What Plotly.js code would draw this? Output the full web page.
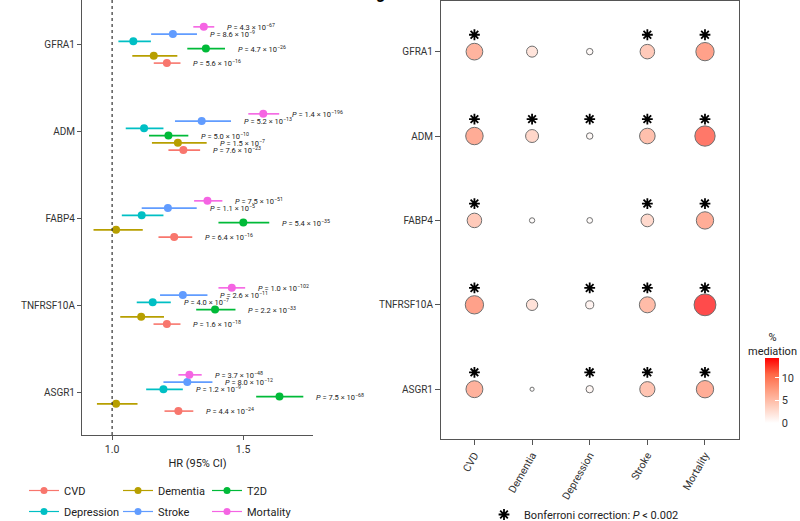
<!DOCTYPE html>
<html><head><meta charset="utf-8">
<script src="https://cdn.plot.ly/plotly-3.0.1.min.js"></script>
<style>html,body{margin:0;padding:0;background:#fff;} #chart{width:800px;height:521px;}</style>
</head><body><div id="chart"></div>
<script>
// ---------- data: left panel (HR forest plot) ----------
const proteins = ['GFRA1', 'ADM', 'FABP4', 'TNFRSF10A', 'ASGR1'];
const outcomes = ['CVD', 'Dementia', 'T2D', 'Depression', 'Stroke', 'Mortality'];

const hr_CVD = [1.209, 1.272, 1.237, 1.209, 1.253];
const lo_CVD = [1.159, 1.215, 1.177, 1.158, 1.200];
const hi_CVD = [1.261, 1.336, 1.306, 1.261, 1.310];
const p_CVD = [['5.6', '16'], ['7.6', '23'], ['6.4', '16'], ['1.6', '18'], ['4.4', '24']];

const hr_Dementia = [1.159, 1.251, 1.015, 1.111, 1.015];
const lo_Dementia = [1.077, 1.152, 0.929, 1.031, 0.942];
const hi_Dementia = [1.249, 1.361, 1.117, 1.198, 1.097];
const p_Dementia = [null, ['1.5', '7'], null, null, null];

const hr_T2D = [1.358, 1.215, 1.501, 1.393, 1.639];
const lo_T2D = [1.287, 1.141, 1.406, 1.321, 1.550];
const hi_T2D = [1.431, 1.291, 1.600, 1.471, 1.730];
const p_T2D = [['4.7', '26'], ['5.0', '10'], ['5.4', '35'], ['2.2', '33'], ['7.5', '68']];

const hr_Depression = [1.081, 1.122, 1.113, 1.155, 1.196];
const lo_Depression = [1.024, 1.052, 1.037, 1.094, 1.130];
const hi_Depression = [1.148, 1.196, 1.196, 1.224, 1.270];
const p_Depression = [null, null, null, ['4.0', '7'], ['1.2', '9']];

const hr_Stroke = [1.232, 1.342, 1.213, 1.270, 1.287];
const lo_Stroke = [1.149, 1.240, 1.113, 1.183, 1.196];
const hi_Stroke = [1.324, 1.454, 1.323, 1.364, 1.383];
const p_Stroke = [['8.6', '9'], ['5.2', '13'], ['1.1', '5'], ['2.6', '11'], ['8.0', '12']];

const hr_Mortality = [1.350, 1.577, 1.364, 1.457, 1.295];
const lo_Mortality = [1.310, 1.520, 1.313, 1.406, 1.253];
const hi_Mortality = [1.390, 1.638, 1.421, 1.508, 1.342];
const p_Mortality = [['4.3', '67'], ['1.4', '196'], ['7.5', '51'], ['1.0', '102'], ['3.7', '48']];

// ---------- data: right panel (% mediation) ----------
const medOutcomes = ['CVD', 'Dementia', 'Depression', 'Stroke', 'Mortality'];
const med_CVD = [7.8, 8.6, 5.6, 9.6, 8.0];
const med_Dementia = [2.8, 4.2, 0.3, 3.0, 0.1];
const med_Depression = [0.6, 0.6, 0.4, 1.2, 0.9];
const med_Stroke = [5.6, 6.6, 4.0, 7.0, 6.2];
const med_Mortality = [9.6, 12.2, 8.5, 14.4, 8.5];
const sig_CVD = [1, 1, 1, 1, 1];
const sig_Dementia = [0, 1, 0, 0, 0];
const sig_Depression = [0, 1, 0, 1, 1];
const sig_Stroke = [1, 1, 1, 1, 1];
const sig_Mortality = [1, 1, 1, 1, 1];

// ---------- styling ----------
const FONT = 'Roboto, Arial, sans-serif';
const colors = {CVD:'#F8766D', Dementia:'#B79F00', T2D:'#00BA38', Depression:'#00BFC4', Stroke:'#619CFF', Mortality:'#F564E3'};
const dodge = {Mortality:0.2083, Stroke:0.125, Depression:0.0417, T2D:-0.0417, Dementia:-0.125, CVD:-0.2083};
const legendOf = {CVD:'legend', Depression:'legend', Dementia:'legend2', Stroke:'legend2', T2D:'legend3', Mortality:'legend3'};
const forest = {
  CVD:[hr_CVD, lo_CVD, hi_CVD, p_CVD],
  Dementia:[hr_Dementia, lo_Dementia, hi_Dementia, p_Dementia],
  T2D:[hr_T2D, lo_T2D, hi_T2D, p_T2D],
  Depression:[hr_Depression, lo_Depression, hi_Depression, p_Depression],
  Stroke:[hr_Stroke, lo_Stroke, hi_Stroke, p_Stroke],
  Mortality:[hr_Mortality, lo_Mortality, hi_Mortality, p_Mortality]
};
const med = {CVD:med_CVD, Dementia:med_Dementia, Depression:med_Depression, Stroke:med_Stroke, Mortality:med_Mortality};
const sig = {CVD:sig_CVD, Dementia:sig_Dementia, Depression:sig_Depression, Stroke:sig_Stroke, Mortality:sig_Mortality};

const catY = proteins.map((p, i) => proteins.length - i);

const traces = [];
const annotations = [];

// forest traces
outcomes.forEach(o => {
  const [hr, lo, hi, pv] = forest[o];
  const y = catY.map(v => v + dodge[o]);
  traces.push({
    type:'scatter', mode:'markers', x:hr, y:y, xaxis:'x', yaxis:'y',
    marker:{size:8, color:colors[o]},
    error_x:{type:'data', symmetric:false, array:hr.map((h, i) => hi[i] - h), arrayminus:hr.map((h, i) => h - lo[i]),
             color:colors[o], thickness:1.6, width:0},
    showlegend:false, hoverinfo:'skip'
  });
  pv.forEach((p, i) => {
    if (!p) return;
    annotations.push({
      x:hi[i], y:y[i], xref:'x', yref:'y', xanchor:'left', yanchor:'middle', xshift:11,
      text:'<i>P</i> = ' + p[0] + ' × 10<sup>−' + p[1] + '</sup>',
      showarrow:false, font:{family:FONT, size:7.5, color:'#222'}
    });
  });
});

// legend entries for forest
['CVD', 'Depression', 'Dementia', 'Stroke', 'T2D', 'Mortality'].forEach(o => {
  traces.push({
    type:'scatter', mode:'lines+markers', x:[null], y:[null], xaxis:'x', yaxis:'y',
    name:o, legend:legendOf[o], legendgroup:o,
    line:{color:colors[o], width:1.2}, marker:{size:7, color:colors[o]}
  });
});

// bubble trace
const bx = [], by = [], bv = [];
medOutcomes.forEach((o, j) => {
  med[o].forEach((v, i) => { bx.push(j + 1); by.push(catY[i]); bv.push(v); });
});
const labScale = [[0, 'rgb(255,255,255)'], [0.25, 'rgb(255,207,191)'], [0.5, 'rgb(255,158,129)'], [0.75, 'rgb(255,104,70)'], [1, 'rgb(255,0,0)']];
traces.push({
  type:'scatter', mode:'markers', x:bx, y:by, xaxis:'x2', yaxis:'y2', showlegend:false, hoverinfo:'skip',
  marker:{
    size:bv.map(v => 2.5 + 5.1 * Math.sqrt(v)),
    color:bv, cmin:0, cmax:14.4, colorscale:labScale,
    line:{width:1, color:'#333'},
    showscale:true,
    colorbar:{
      thickness:14, thicknessmode:'pixels', len:65, lenmode:'pixels',
      x:765 / 800, xanchor:'left', xpad:0, y:(521 - 390.5) / 521, yanchor:'middle', ypad:0,
      outlinewidth:0, tickvals:[0, 5, 10], ticks:'inside', ticklen:4, tickcolor:'#fff', tickwidth:1.2,
      tickfont:{family:FONT, size:11, color:'#333'}
    }
  }
});

// significance stars
const sx = [], sy = [];
medOutcomes.forEach((o, j) => {
  sig[o].forEach((s, i) => { if (s) { sx.push(j + 1); sy.push(catY[i] + 0.2); } });
});
traces.push({
  type:'scatter', mode:'markers', x:sx, y:sy, xaxis:'x2', yaxis:'y2', showlegend:false, hoverinfo:'skip',
  marker:{symbol:'asterisk-open', size:9, color:'#000', line:{width:1.8, color:'#000'}}
});
traces.push({
  type:'scatter', mode:'markers', x:[null], y:[null], xaxis:'x2', yaxis:'y2',
  name:'Bonferroni correction: <i>P</i> &lt; 0.002', legend:'legend4',
  marker:{symbol:'asterisk-open', size:9, color:'#000', line:{width:1.8, color:'#000'}}
});

annotations.push({
  x:772 / 800, y:(521 - 344) / 521, xref:'paper', yref:'paper', xanchor:'center', yanchor:'middle',
  text:'%<br>mediation', align:'center', showarrow:false, font:{family:FONT, size:11, color:'#222'}
});
annotations.push({
  x:380 / 800, y:(521 - 5) / 521, xref:'paper', yref:'paper', xanchor:'center', yanchor:'bottom',
  text:'<b>g</b>', showarrow:false, font:{family:FONT, size:16, color:'#000'}
});

const legendBase = {orientation:'v', xanchor:'left', yanchor:'top', bgcolor:'rgba(0,0,0,0)',
  font:{family:FONT, size:11, color:'#222'}, tracegroupgap:2, itemclick:false};

const axisCommon = {showline:true, linecolor:'#555', linewidth:1, ticks:'outside', ticklen:4, tickcolor:'#555',
  showgrid:false, zeroline:false, tickfont:{family:FONT, size:10, color:'#333'}, fixedrange:true};

const layout = {
  width:800, height:521, margin:{l:0, r:0, t:0, b:0, autoexpand:false},
  paper_bgcolor:'#fff', plot_bgcolor:'#fff',
  font:{family:FONT, color:'#222'},
  xaxis:Object.assign({}, axisCommon, {
    domain:[82 / 800, 313 / 800], range:[0.885, 1.767], tickvals:[1.0, 1.5], ticktext:['1.0', '1.5'], anchor:'y',
    tickfont:{family:FONT, size:10.5, color:'#333'},
    title:{text:'HR (95% CI)', font:{family:FONT, size:11, color:'#222'}, standoff:4}
  }),
  yaxis:Object.assign({}, axisCommon, {
    domain:[(521 - 435) / 521, 1], range:[0.517, 5.517], tickvals:catY, ticktext:proteins, anchor:'x'
  }),
  xaxis2:Object.assign({}, axisCommon, {
    domain:[441 / 800, 739 / 800], range:[0.42, 5.59], tickvals:[1, 2, 3, 4, 5], ticktext:medOutcomes,
    tickfont:{family:FONT, size:10.5, color:'#333'},
    tickangle:-60, mirror:true, anchor:'y2', ticklen:5
  }),
  yaxis2:Object.assign({}, axisCommon, {
    domain:[(521 - 439) / 521, (521 - 1) / 521], range:[0.41, 5.6], tickvals:catY, ticktext:proteins,
    mirror:true, anchor:'x2', ticklen:5
  }),
  shapes:[{
    type:'line', xref:'x', yref:'paper', x0:1, x1:1, y0:(521 - 435) / 521, y1:1,
    line:{color:'#333', width:1.2, dash:'3px,3px'}
  }],
  annotations:annotations,
  legend:Object.assign({}, legendBase, {x:24 / 800, y:(521 - 476) / 521}),
  legend2:Object.assign({}, legendBase, {x:118 / 800, y:(521 - 476) / 521}),
  legend3:Object.assign({}, legendBase, {x:207 / 800, y:(521 - 476) / 521}),
  legend4:Object.assign({}, legendBase, {x:484 / 800, y:(521 - 500) / 521})
};

Plotly.newPlot('chart', traces, layout, {displayModeBar:false, staticPlot:true});
</script>
</body></html>
